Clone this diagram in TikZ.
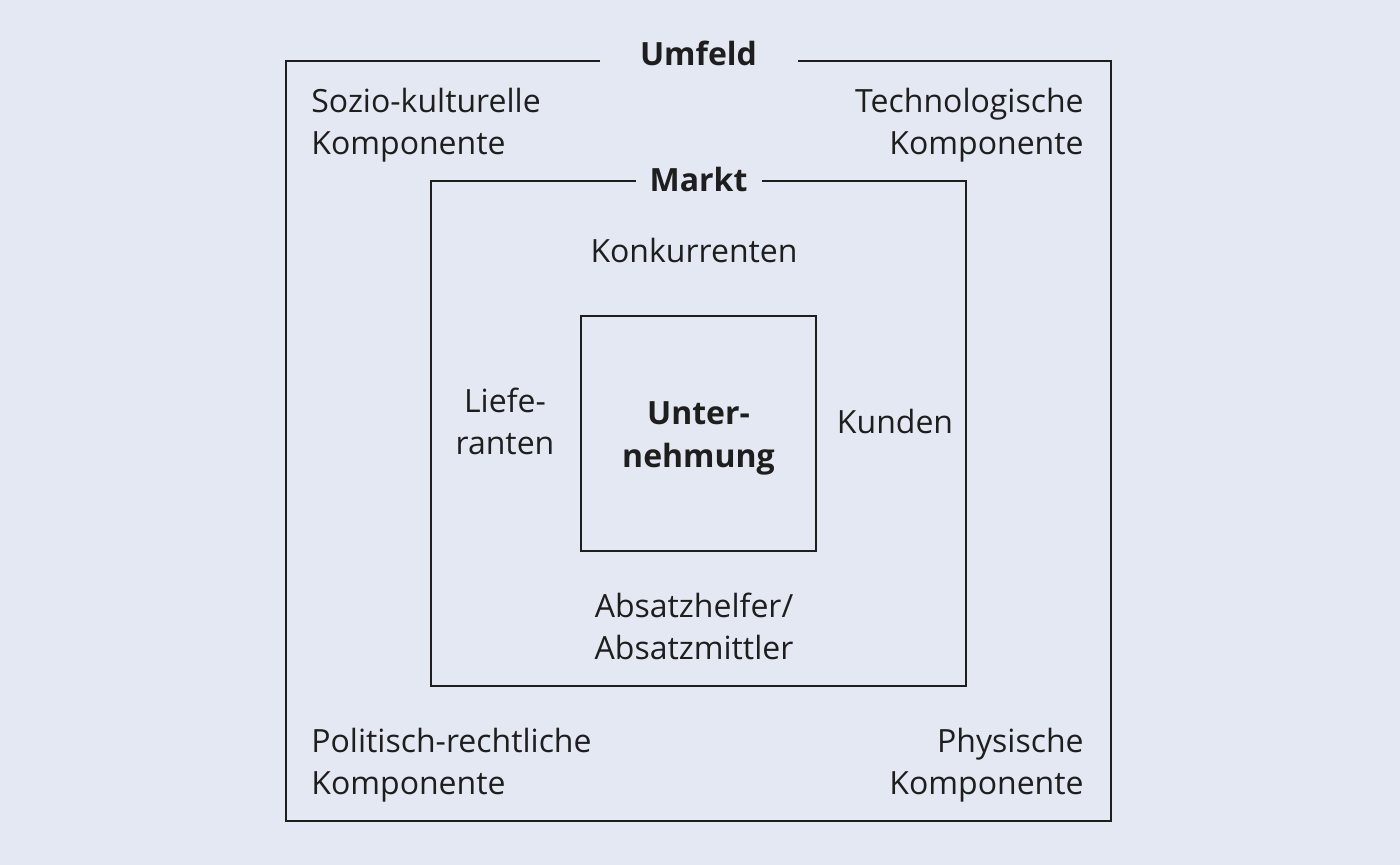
\documentclass[tikz,border=0pt]{standalone}
\usepackage{fontspec}
\setmainfont{Open Sans}
\usetikzlibrary{positioning}
\definecolor{bgblue}{HTML}{E4E8F2}
\definecolor{inkgray}{HTML}{1E1E1E}
\begin{document}
\begin{tikzpicture}[x=0.5pt,y=-0.5pt]
\tikzset{font=\fontsize{16}{21}\selectfont}
\tikzset{frame/.style={draw=inkgray, line width=1pt, inner sep=0pt}}
\tikzset{txt/.style={inner sep=0pt, text=inkgray, align=center}}
\tikzset{heading/.style={txt, fill=bgblue, font=\fontsize{16}{21}\selectfont\bfseries}}
\fill[bgblue] (0,0) rectangle (1400,865);
\useasboundingbox (0,0) rectangle (1400,865);
% the three frames
\node[frame, minimum width=412.5pt, minimum height=380pt] (umfeld) at (698.5,441) {};
\node[frame, minimum width=267.5pt, minimum height=252.5pt] (markt) at (698.5,433.5) {};
\node[frame, minimum size=117.5pt] (unternehmung) at (698.5,433.5) {};
\node[txt, font=\fontsize{16}{21.5}\selectfont\bfseries] (unternehmungtxt) at ([yshift=-2.25pt]unternehmung.center) {Unter-\\nehmung};
% headings cutting the frame lines
\node[heading, minimum width=99pt, minimum height=16pt] (umfeldtitle) at ([yshift=3.5pt]umfeld.north) {Umfeld};
\node[heading, minimum width=63pt, minimum height=16pt] (markttitle) at (markt.north) {Markt};
% Umfeld components
\node[txt, align=left, anchor=west] (sozio) at (311,125) {Sozio-kulturelle\\Komponente};
\node[txt, align=right, anchor=east] (techno) at (1084,125) {Technologische\\Komponente};
\node[txt, align=left, anchor=west] (politisch) at (311,765) {Politisch-rechtliche\\Komponente};
\node[txt, align=right, anchor=east] (physisch) at (1084,765) {Physische\\Komponente};
% Markt parts
\node[txt] (konkurrenten) at (694,251) {Konkurrenten};
\node[txt] (lieferanten) at (505,421) {Liefe-\\ranten};
\node[txt] (kunden) at (895,421) {Kunden};
\node[txt] (absatz) at (694,626) {Absatzhelfer/\\Absatzmittler};
\end{tikzpicture}
\end{document}
